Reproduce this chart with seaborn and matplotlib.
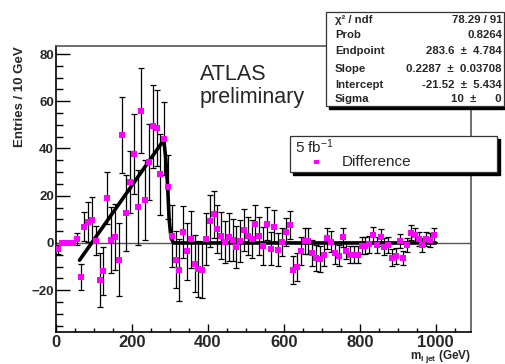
import numpy as np
import pandas as pd
import matplotlib
matplotlib.use("Agg")
import matplotlib.pyplot as plt
import matplotlib.patches as mpatches
from matplotlib.ticker import MultipleLocator
import seaborn as sns

# Data: 10 GeV bins from 0 to 1000 GeV
bin_centres = np.arange(5, 1000, 10)
entries = [
    -2.7, 0.0, 0.0, 0.0, 0.0, 1.7, -14.5, 6.9, 9.0, 9.9,
    1.0, -15.7, -11.9, 19.2, 1.3, 2.4, -7.1, 45.6, 12.6, 25.8,
    37.7, 15.1, 55.9, 18.2, 34.3, 49.4, 48.7, 29.0, 44.1, 23.6,
    3.0, -7.1, -11.4, 4.7, -3.5, 1.6, -8.8, -11.0, -11.4, 1.6,
    9.3, 12.1, 5.9, 3.0, 0.5, 2.5, 1.3, -1.8, 0.8, 5.5,
    3.0, 1.6, 8.2, 3.0, -1.3, 8.2, -2.4, 6.8, -2.8, 0.5,
    4.7, 7.6, -11.4, -10.2, -3.5, 1.0, 0.8, -4.4, -6.2, -6.8,
    -4.9, 2.0, 0.6, -4.4, -5.4, 2.4, -3.2, -4.9, -4.9, -4.9,
    -1.1, -1.1, -0.6, 3.4, -0.8, 2.4, -1.6, -0.8, -6.2, -5.5,
    0.8, -6.2, -0.8, 4.4, 3.2, 1.6, -0.8, 1.6, 1.3, 3.2,
]
errors = [
    2.0, 0.0, 0.0, 0.0, 0.0, 2.5, 5.5, 6.0, 8.5, 9.5,
    6.0, 11.5, 10.0, 11.0, 14.0, 14.0, 15.5, 16.0, 16.0, 13.0,
    17.0, 16.0, 18.0, 17.0, 16.0, 17.5, 16.0, 17.0, 15.5, 13.5,
    13.0, 12.0, 13.0, 11.0, 12.0, 12.0, 12.0, 12.0, 12.0, 11.0,
    11.0, 10.0, 10.0, 10.0, 9.0, 10.0, 9.0, 9.0, 9.0, 9.0,
    8.0, 8.0, 8.0, 8.0, 8.0, 7.0, 7.0, 7.0, 7.0, 6.0,
    6.0, 6.0, 6.0, 6.0, 6.0, 5.5, 5.5, 5.5, 5.5, 5.5,
    5.0, 4.5, 4.5, 4.5, 4.5, 4.0, 3.5, 3.5, 3.5, 3.5,
    3.5, 3.5, 3.5, 3.5, 3.5, 3.5, 3.5, 3.5, 3.5, 3.5,
    3.0, 3.0, 3.0, 3.0, 3.0, 3.0, 3.0, 3.0, 3.0, 3.0,
]

# Fitted curve (linear edge + endpoint)
fit_x = [62, 284, 289, 294, 298, 303, 310, 1000]
fit_y = [-7.3, 43.6, 36.0, 24.0, 10.0, 2.0, 0.0, 0.0]

stat_names = ["\u03c7\u00b2 / ndf", "Prob", "Endpoint", "Slope", "Intercept", "Sigma"]
stat_values = ["78.29 / 91", "0.8264", "283.6  \u00b1  4.784", "0.2287  \u00b1  0.03708",
               "-21.52  \u00b1  5.434", "10  \u00b1      0"]

df = pd.DataFrame({"m": bin_centres, "entries": entries, "err": errors})
fit = pd.DataFrame({"m": fit_x, "f": fit_y})

sns.set_style("ticks")
plt.rcParams["font.family"] = ["Liberation Sans", "DejaVu Sans"]
plt.rcParams["mathtext.fontset"] = "custom"
plt.rcParams["mathtext.rm"] = "Liberation Sans"
plt.rcParams["mathtext.it"] = "Liberation Sans:italic"
plt.rcParams["mathtext.bf"] = "Liberation Sans:bold"

W, H = 505, 364
fig = plt.figure(figsize=(W / 100, H / 100), dpi=100)
ax = fig.add_axes([56 / W, 1 - 332 / H, (471 - 56) / W, (332 - 46) / H])

def fx(px):
    return px / W

def fy(py):
    return 1 - py / H

# Zero line
ax.axhline(0, color="#555555", lw=1.0, zorder=1)

# Error bars (only where there is an error)
with_err = df[df["err"] > 0]
ax.errorbar(with_err["m"], with_err["entries"], yerr=with_err["err"], fmt="none",
            ecolor="black", elinewidth=0.9, capsize=2.4, capthick=0.9, zorder=2)

# Fit line
sns.lineplot(data=fit, x="m", y="f", color="black", lw=2.6, estimator=None,
             sort=False, ax=ax, zorder=3)

# Markers
sns.scatterplot(data=df, x="m", y="entries", marker="s", color="magenta", s=17,
                linewidth=0, ax=ax, zorder=4)

ax.set_xlim(0, 1093)
ax.set_ylim(-37.7, 83.4)
ax.xaxis.set_major_locator(MultipleLocator(200))
ax.xaxis.set_minor_locator(MultipleLocator(50))
ax.yaxis.set_major_locator(MultipleLocator(20))
ax.yaxis.set_minor_locator(MultipleLocator(5))
ax.tick_params(axis="both", which="both", direction="in", color="black", width=1.0)
ax.tick_params(axis="x", which="major", length=6, labelsize=12, pad=2.5)
ax.tick_params(axis="x", which="minor", length=3)
ax.tick_params(axis="y", which="major", length=10, labelsize=9.5, pad=1.5)
ax.tick_params(axis="y", which="minor", length=5)
for lab in ax.get_xticklabels() + ax.get_yticklabels():
    lab.set_fontweight("bold")

for s in ["left", "bottom"]:
    ax.spines[s].set_color("black")
    ax.spines[s].set_linewidth(1.2)
for s in ["right", "top"]:
    ax.spines[s].set_color("#555555")
    ax.spines[s].set_linewidth(1.2)

ax.set_ylabel("Entries / 10 GeV", fontsize=9.5, fontweight="bold", loc="top")
ax.yaxis.set_label_coords(-0.072, 1.0)
ax.set_xlabel(r"$\mathbf{m_{l\ jet}}$ (GeV)", fontsize=8.5, fontweight="bold", loc="right")
ax.xaxis.set_label_coords(1.0, -0.057)

# ATLAS label
ax.text(fx(200), fy(74), "ATLAS", transform=fig.transFigure, fontsize=15.5,
        ha="left", va="center")
ax.text(fx(200), fy(97), "preliminary", transform=fig.transFigure, fontsize=15.5,
        ha="left", va="center")

def shadow_box(x0, y0, x1, y1, off=3):
    fig.patches.append(mpatches.Rectangle((fx(x0 + off), fy(y1 + off)), (x1 - x0) / W,
                                          (y1 - y0) / H, transform=fig.transFigure,
                                          facecolor="black", edgecolor="black", zorder=5))
    fig.patches.append(mpatches.Rectangle((fx(x0), fy(y1)), (x1 - x0) / W, (y1 - y0) / H,
                                          transform=fig.transFigure, facecolor="white",
                                          edgecolor="#333333", lw=0.9, zorder=6))

# Stats box
shadow_box(326, 12, 504, 106)
row_y = [20, 35, 51.5, 69.5, 85, 99.5]
for name, val, ry in zip(stat_names, stat_values, row_y):
    fig.text(fx(335), fy(ry), name, fontsize=8.2, fontweight="bold", ha="left",
             va="center", zorder=7)
    fig.text(fx(502), fy(ry), val, fontsize=8.2, fontweight="bold", ha="right",
             va="center", zorder=7)

# Legend box
shadow_box(290, 136, 497, 172)
fig.text(fx(295), fy(147), "5 fb$^{-1}$", fontsize=11, ha="left", va="center", zorder=7)
fig.patches.append(mpatches.Rectangle((fx(314), fy(164.5)), 5 / W, 5 / H,
                                      transform=fig.transFigure, facecolor="magenta",
                                      edgecolor="none", zorder=7))
fig.text(fx(342), fy(162), "Difference", fontsize=11, ha="left", va="center", zorder=7)

fig.savefig("out.png", dpi=100)
